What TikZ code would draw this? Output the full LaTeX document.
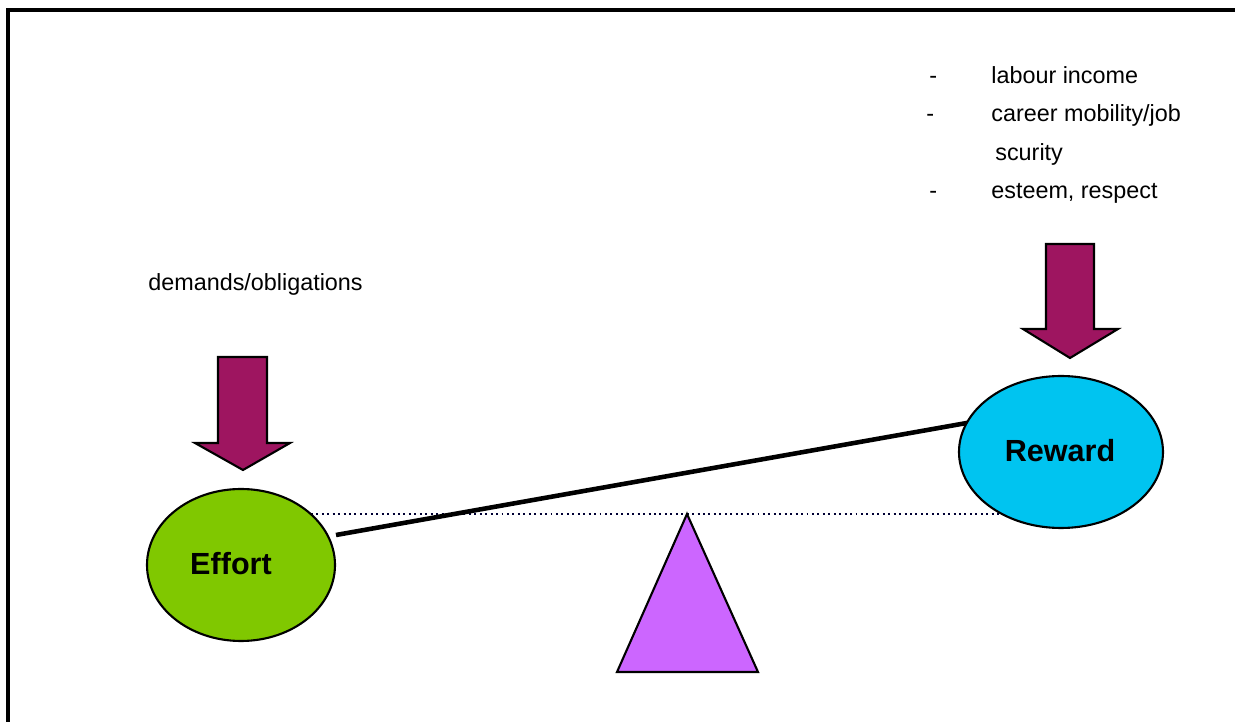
\documentclass[tikz,border=0pt]{standalone}
\usepackage{fontspec}
\setmainfont{Liberation Sans}
\usetikzlibrary{shapes.geometric}
\definecolor{arrowfill}{HTML}{9E1560}
\definecolor{effortgreen}{HTML}{80C800}
\definecolor{rewardcyan}{HTML}{00C4F0}
\definecolor{fulcrum}{HTML}{CC66FF}
\begin{document}
\begin{tikzpicture}[x=0.02cm,y=-0.02cm,
  lbl/.style={anchor=base west,inner sep=0pt,font=\fontsize{13.3}{15}\selectfont},
  ball/.style={ellipse,draw=black,line width=1.2pt,inner sep=0pt},
  ballname/.style={font=\bfseries\fontsize{17.4}{20}\selectfont,inner sep=0pt},
  blockarrow/.style={fill=arrowfill,draw=black,line width=1.2pt,line join=miter},
  beam/.style={line width=2.6pt},
  level/.style={dotted,line width=1.1pt,draw=black!80!blue}]
\useasboundingbox (0,0) rectangle (1235,722);
\fill[white] (0,0) rectangle (1235,722);
% frame
\draw[line width=2pt] (8,722) -- (8,10) -- (1236,10);
% level and beam (behind balls)
\coordinate (levL) at (300,514);
\coordinate (levR) at (1000,514);
\draw[level] (levL) -- (levR);
\coordinate (beamL) at (336,535);
\coordinate (beamR) at (978,421);
\draw[beam] (beamL) -- (beamR);
% balls
\node[ball,fill=effortgreen,minimum width=188*0.02cm,minimum height=152*0.02cm] (effort) at (241,565) {};
\node[ballname] (effortlbl) at (231,564) {Effort};
\node[ball,fill=rewardcyan,minimum width=204*0.02cm,minimum height=152*0.02cm] (reward) at (1061,452) {};
\node[ballname] (rewardlbl) at (1060,451) {Reward};
% fulcrum
\draw[fill=fulcrum,line width=1.2pt,line join=miter] (687,514) -- (758,672) -- (617,672) -- cycle;
% block arrows
\draw[blockarrow] (218,357) -- (267,357) -- (267,443) -- (290,443) -- (243,470) -- (195,443) -- (218,443) -- cycle;
\draw[blockarrow] (1046,244) -- (1094,244) -- (1094,329) -- (1118,329) -- (1070,358) -- (1023,329) -- (1046,329) -- cycle;
% texts
\node[lbl] (demands) at (148,291) {demands/obligations};
\node[lbl] (d1) at (929,84) {-};
\node[lbl] (t1) at (991,84) {labour income};
\node[lbl] (d2) at (926,122) {-};
\node[lbl] (t2) at (991,122) {career mobility/job};
\node[lbl] (t3) at (995,161) {scurity};
\node[lbl] (d4) at (929,199) {-};
\node[lbl] (t4) at (991,199) {esteem, respect};
\end{tikzpicture}
\end{document}
